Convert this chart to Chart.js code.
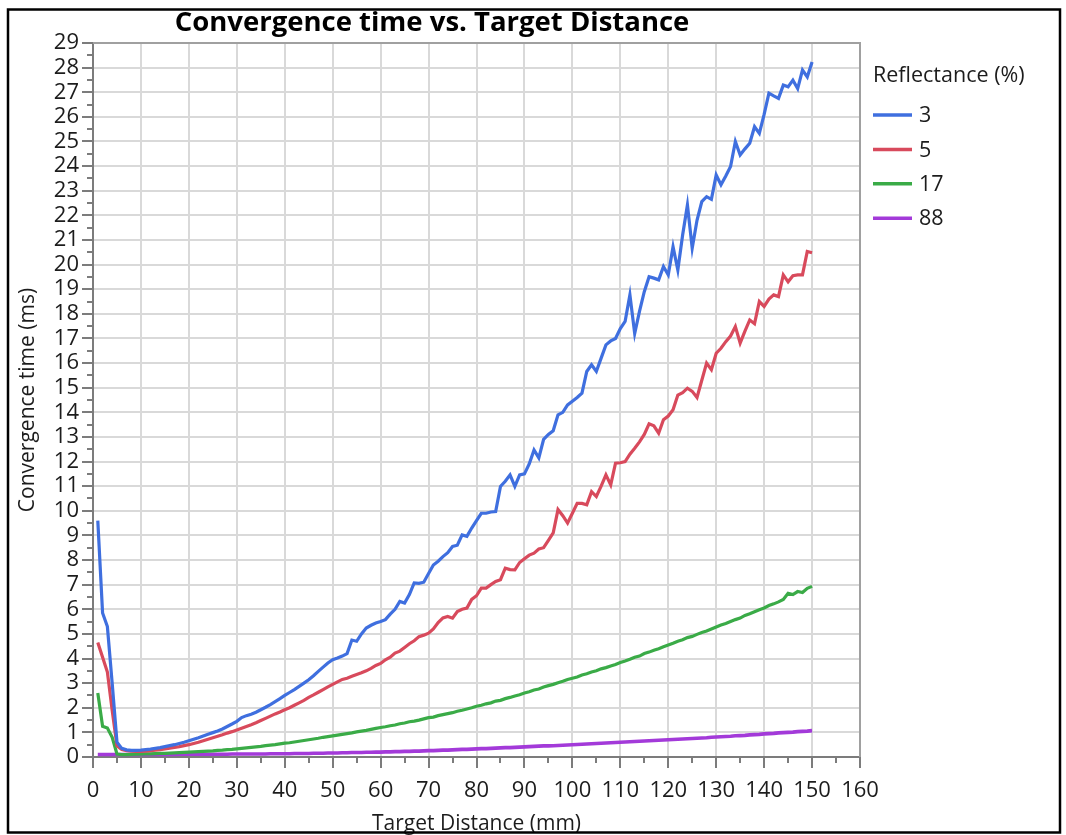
<!DOCTYPE html>
<html>
<head>
<meta charset="utf-8">
<script src="https://cdn.jsdelivr.net/npm/chart.js@4.4.1/dist/chart.umd.min.js"></script>
<style>
html,body{margin:0;padding:0;background:#fff;}
canvas{display:block;}
</style>
</head>
<body>
<canvas id="c" width="1066" height="835"></canvas>
<script>
// ---------- DATA ----------
const chartTitle = 'Convergence time vs. Target Distance';
const xAxisTitle = 'Target Distance (mm)';
const yAxisTitle = 'Convergence time (ms)';
const legendTitle = 'Reflectance (%)';
const reflectanceLabels = ['3', '5', '17', '88'];

const xMin = 0, xMax = 160, xStep = 10;
const yMin = 0, yMax = 29, yStep = 1;

const distanceMm = [
  1,2,3,4,5,6,7,8,9,10,
  11,12,13,14,15,16,17,18,19,20,
  21,22,23,24,25,26,27,28,29,30,
  31,32,33,34,35,36,37,38,39,40,
  41,42,43,44,45,46,47,48,49,50,
  51,52,53,54,55,56,57,58,59,60,
  61,62,63,64,65,66,67,68,69,70,
  71,72,73,74,75,76,77,78,79,80,
  81,82,83,84,85,86,87,88,89,90,
  91,92,93,94,95,96,97,98,99,100,
  101,102,103,104,105,106,107,108,109,110,
  111,112,113,114,115,116,117,118,119,120,
  121,122,123,124,125,126,127,128,129,130,
  131,132,133,134,135,136,137,138,139,140,
  141,142,143,144,145,146,147,148,149,150
];

const timeRefl3 = [
  9.6,5.85,5.3,3.0,0.6,0.35,0.29,0.27,0.27,0.28,
  0.3,0.32,0.35,0.38,0.42,0.46,0.5,0.55,0.6,0.66,
  0.72,0.78,0.85,0.92,0.99,1.06,1.14,1.24,1.34,1.45,
  1.6,1.68,1.74,1.82,1.92,2.02,2.13,2.25,2.37,2.5,
  2.62,2.74,2.87,3.0,3.14,3.3,3.48,3.65,3.82,3.95,
  4.02,4.1,4.2,4.75,4.7,5.0,5.24,5.35,5.44,5.5,
  5.58,5.8,6.0,6.32,6.25,6.6,7.07,7.05,7.1,7.45,
  7.8,7.95,8.14,8.3,8.55,8.6,9.02,8.96,9.3,9.6,
  9.9,9.9,9.95,9.97,10.99,11.2,11.46,10.99,11.46,11.5,
  11.9,12.47,12.15,12.9,13.1,13.25,13.9,14.0,14.3,14.45,
  14.6,14.78,15.66,15.93,15.66,16.2,16.74,16.9,17.0,17.4,
  17.69,18.77,17.2,18.1,18.9,19.51,19.45,19.38,19.92,19.58,
  20.73,19.78,21.2,22.42,20.67,21.8,22.56,22.76,22.65,23.64,
  23.24,23.6,23.98,25.0,24.45,24.7,24.93,25.6,25.33,26.1,
  26.96,26.85,26.75,27.29,27.22,27.49,27.15,27.9,27.62,28.23
];

const timeRefl5 = [
  4.65,4.05,3.45,1.9,0.45,0.3,0.26,0.24,0.23,0.23,
  0.24,0.26,0.28,0.3,0.33,0.36,0.39,0.42,0.46,0.5,
  0.55,0.6,0.66,0.72,0.78,0.84,0.9,0.97,1.03,1.1,
  1.17,1.24,1.31,1.39,1.48,1.57,1.66,1.75,1.83,1.92,
  2.0,2.1,2.2,2.3,2.42,2.52,2.63,2.74,2.85,2.95,
  3.05,3.15,3.2,3.28,3.35,3.42,3.5,3.6,3.72,3.8,
  3.95,4.05,4.22,4.3,4.45,4.6,4.72,4.89,4.95,5.03,
  5.2,5.46,5.65,5.71,5.64,5.91,6.0,6.05,6.4,6.55,
  6.86,6.86,7.0,7.13,7.2,7.67,7.61,7.6,7.9,8.05,
  8.2,8.28,8.45,8.5,8.8,9.1,10.05,9.8,9.5,9.9,
  10.3,10.3,10.24,10.78,10.58,11.0,11.46,11.05,11.93,11.95,
  12.0,12.3,12.54,12.8,13.1,13.53,13.45,13.15,13.7,13.85,
  14.1,14.7,14.8,14.98,14.85,14.6,15.3,16.0,15.73,16.4,
  16.6,16.87,17.1,17.48,16.81,17.3,17.75,17.6,18.5,18.3,
  18.6,18.77,18.7,19.58,19.3,19.55,19.58,19.58,20.53,20.48
];

const timeRefl17 = [
  2.6,1.25,1.18,0.8,0.12,0.1,0.1,0.11,0.12,0.12,
  0.13,0.13,0.14,0.15,0.15,0.16,0.17,0.18,0.19,0.2,
  0.21,0.22,0.23,0.24,0.25,0.27,0.28,0.3,0.31,0.33,
  0.35,0.37,0.39,0.41,0.43,0.46,0.48,0.5,0.53,0.56,
  0.58,0.61,0.64,0.67,0.7,0.73,0.76,0.8,0.83,0.86,
  0.89,0.92,0.95,0.98,1.02,1.05,1.08,1.12,1.16,1.2,
  1.23,1.27,1.3,1.35,1.38,1.43,1.46,1.5,1.55,1.6,
  1.62,1.68,1.72,1.76,1.8,1.86,1.9,1.95,2.0,2.06,
  2.1,2.16,2.2,2.27,2.3,2.37,2.42,2.48,2.53,2.6,
  2.65,2.72,2.76,2.84,2.9,2.95,3.02,3.08,3.15,3.2,
  3.25,3.33,3.38,3.45,3.5,3.58,3.63,3.7,3.76,3.84,
  3.9,3.97,4.05,4.1,4.2,4.26,4.34,4.4,4.48,4.55,
  4.62,4.7,4.76,4.85,4.9,4.98,5.06,5.12,5.2,5.28,
  5.36,5.42,5.5,5.58,5.64,5.75,5.82,5.9,5.98,6.05,
  6.15,6.22,6.3,6.4,6.65,6.6,6.72,6.68,6.85,6.93
];

const timeRefl88 = [
  0.1,0.1,0.1,0.1,0.1,0.1,0.1,0.1,0.1,0.1,
  0.1,0.1,0.1,0.1,0.1,0.1,0.1,0.11,0.11,0.11,
  0.11,0.11,0.11,0.11,0.11,0.11,0.11,0.11,0.12,0.12,
  0.12,0.12,0.12,0.12,0.12,0.12,0.13,0.13,0.13,0.13,
  0.13,0.14,0.14,0.14,0.14,0.15,0.15,0.15,0.16,0.16,
  0.16,0.17,0.17,0.18,0.18,0.18,0.19,0.19,0.2,0.2,
  0.21,0.21,0.22,0.22,0.23,0.23,0.24,0.24,0.25,0.26,
  0.26,0.27,0.28,0.28,0.29,0.3,0.31,0.31,0.32,0.33,
  0.34,0.34,0.35,0.36,0.37,0.38,0.38,0.39,0.4,0.41,
  0.42,0.43,0.44,0.45,0.45,0.46,0.47,0.48,0.49,0.5,
  0.51,0.52,0.53,0.54,0.55,0.56,0.57,0.58,0.59,0.6,
  0.61,0.62,0.63,0.64,0.65,0.66,0.67,0.68,0.69,0.7,
  0.71,0.72,0.73,0.74,0.75,0.76,0.77,0.78,0.8,0.81,
  0.82,0.83,0.84,0.86,0.87,0.88,0.9,0.91,0.92,0.94,
  0.95,0.96,0.98,0.99,1.0,1.01,1.03,1.04,1.05,1.07
];

// ---------- STYLE ----------
const seriesValues = [timeRefl3, timeRefl5, timeRefl17, timeRefl88];
const seriesColors = ['#3f6fdf', '#d84a5c', '#3aab47', '#a33ad9'];
const seriesWidths = [3.2, 3.2, 3.2, 3.6];
const FONT = '"Open Sans", "DejaVu Sans", sans-serif';
const TEXT = '#1c1c1c';
const AXIS = '#7c7c7c';
const GRID = '#d9d9d9';

const datasets = reflectanceLabels.map((lab, k) => ({
  label: lab,
  data: distanceMm.map((d, i) => ({ x: d, y: seriesValues[k][i] })),
  borderColor: seriesColors[k],
  backgroundColor: seriesColors[k],
  borderWidth: seriesWidths[k],
  pointRadius: 0,
  tension: 0,
  fill: false
}));

const decor = {
  id: 'decor',
  beforeDraw(chart) {
    const c = chart.ctx;
    c.save();
    c.fillStyle = '#fff';
    c.fillRect(0, 0, chart.width, chart.height);
    c.restore();
  },
  afterDraw(chart) {
    const c = chart.ctx;
    const a = chart.chartArea;
    const xs = chart.scales.x, ys = chart.scales.y;
    c.save();
    // plot frame (top & right)
    c.strokeStyle = '#a0a0a0';
    c.lineWidth = 2;
    c.beginPath();
    c.moveTo(a.left, a.top); c.lineTo(a.right, a.top); c.lineTo(a.right, a.bottom);
    c.stroke();
    // minor ticks
    c.strokeStyle = AXIS;
    c.lineWidth = 2;
    c.beginPath();
    for (let v = yMin + yStep / 2; v < yMax; v += yStep) {
      const py = Math.round(ys.getPixelForValue(v));
      c.moveTo(a.left - 6, py); c.lineTo(a.left, py);
    }
    for (let v = xMin + xStep / 2; v < xMax; v += xStep) {
      const px = Math.round(xs.getPixelForValue(v));
      c.moveTo(px, a.bottom); c.lineTo(px, a.bottom + 6);
    }
    c.stroke();
    // title
    c.fillStyle = '#000';
    c.font = 'bold 27.5px ' + FONT;
    c.textAlign = 'center';
    c.textBaseline = 'middle';
    c.fillText(chartTitle, 432, 23);
    // legend
    c.font = '21.5px ' + FONT;
    c.textAlign = 'left';
    c.fillStyle = TEXT;
    c.fillText(legendTitle, 873, 76);
    chart.data.datasets.forEach((ds, i) => {
      const y = 115 + i * 34.4;
      c.strokeStyle = ds.borderColor;
      c.lineWidth = 3.5;
      c.beginPath();
      c.moveTo(873, y); c.lineTo(912, y);
      c.stroke();
      c.fillStyle = TEXT;
      c.fillText(ds.label, 919, y + 1);
    });
    // outer border
    c.strokeStyle = '#000';
    c.lineWidth = 2.5;
    c.strokeRect(8, 9.5, 1052, 823);
    c.restore();
  }
};

new Chart(document.getElementById('c'), {
  type: 'line',
  data: { datasets },
  options: {
    responsive: false,
    animation: false,
    devicePixelRatio: 1,
    layout: { padding: { left: 10, right: 206, top: 43, bottom: 0 } },
    plugins: {
      legend: { display: false },
      title: { display: false },
      tooltip: { enabled: false }
    },
    scales: {
      x: {
        type: 'linear',
        min: xMin, max: xMax,
        afterFit(s) { s.height = 78; },
        ticks: { stepSize: xStep, autoSkip: false, maxRotation: 0, padding: 10, color: TEXT,
                 font: { family: FONT, size: 22 } },
        grid: { color: GRID, lineWidth: 2, tickColor: AXIS, tickWidth: 2, tickLength: 11 },
        border: { color: AXIS, width: 2 },
        title: { display: true, text: xAxisTitle, color: TEXT,
                 font: { family: FONT, size: 21, lineHeight: 1 }, padding: { top: 0, bottom: 0 } }
      },
      y: {
        type: 'linear',
        min: yMin, max: yMax,
        afterFit(s) { s.width = 83; },
        ticks: { stepSize: yStep, autoSkip: false, padding: 3, color: TEXT,
                 font: { family: FONT, size: 22, lineHeight: 1 } },
        grid: { color: GRID, lineWidth: 2, tickColor: AXIS, tickWidth: 2, tickLength: 11 },
        border: { color: AXIS, width: 2 },
        title: { display: true, text: yAxisTitle, color: TEXT,
                 font: { family: FONT, size: 21 }, padding: { top: 5, bottom: 0 } }
      }
    }
  },
  plugins: [decor]
});
</script>
</body>
</html>
